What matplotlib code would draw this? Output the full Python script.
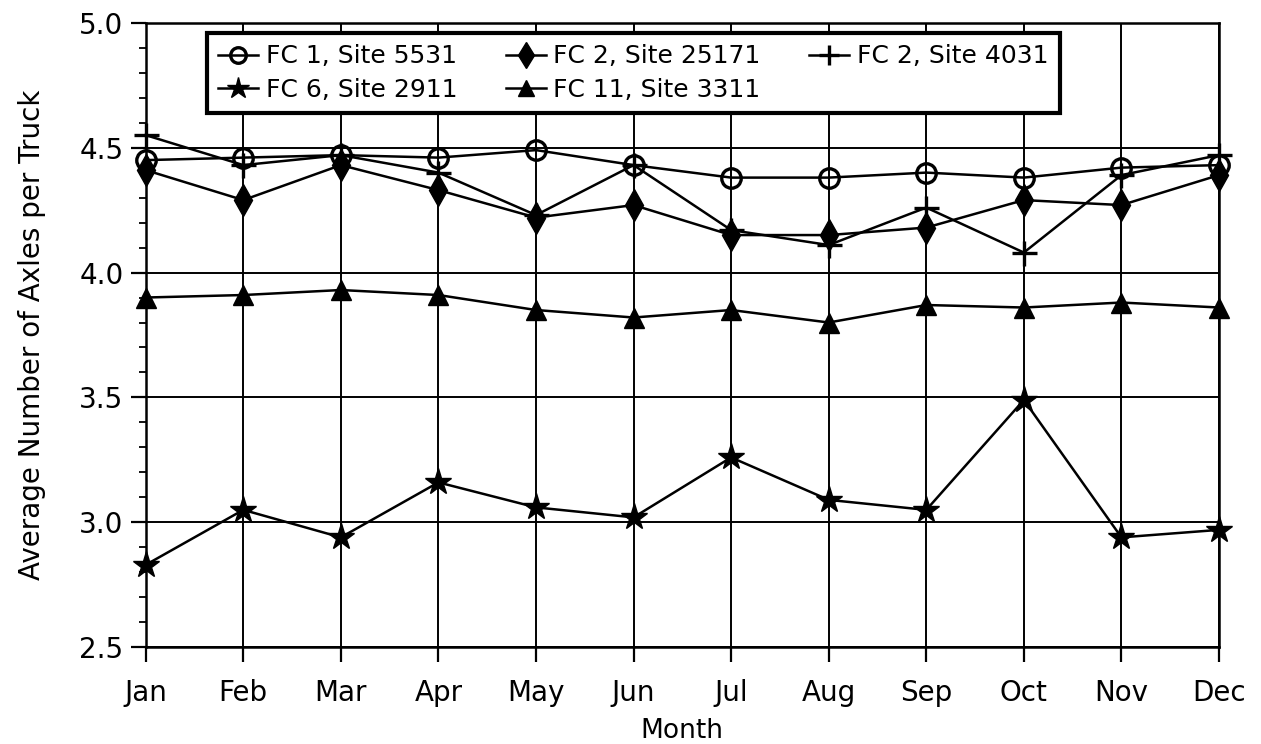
import matplotlib
matplotlib.use("Agg")
import matplotlib.pyplot as plt
from matplotlib.ticker import MultipleLocator

months = ["Jan", "Feb", "Mar", "Apr", "May", "Jun", "Jul", "Aug", "Sep", "Oct", "Nov", "Dec"]
fc1_5531 = [4.45, 4.46, 4.47, 4.46, 4.49, 4.43, 4.38, 4.38, 4.40, 4.38, 4.42, 4.43]
fc2_25171 = [4.41, 4.29, 4.43, 4.33, 4.22, 4.27, 4.15, 4.15, 4.18, 4.29, 4.27, 4.39]
fc2_4031 = [4.55, 4.43, 4.47, 4.40, 4.23, 4.43, 4.17, 4.11, 4.26, 4.08, 4.39, 4.47]
fc6_2911 = [2.83, 3.05, 2.94, 3.16, 3.06, 3.02, 3.26, 3.09, 3.05, 3.49, 2.94, 2.97]
fc11_3311 = [3.90, 3.91, 3.93, 3.91, 3.85, 3.82, 3.85, 3.80, 3.87, 3.86, 3.88, 3.86]
y_ticks = [2.5, 3.0, 3.5, 4.0, 4.5, 5.0]

plt.rcParams['font.family'] = ['DejaVu Sans']

fig = plt.figure(figsize=(12.61, 7.44), dpi=100)
ax = fig.add_axes([145.7/1261, 1-647.3/744, (1219-145.7)/1261, (647.3-22.7)/744])

x = list(range(len(months)))
lw = 1.8
common = dict(color='black', lw=lw, zorder=4, clip_on=False)
h1, = ax.plot(x, fc1_5531, marker='o', ms=14, mfc='none', mec='black', mew=2.4,
              label='FC 1, Site 5531', **common)
h2, = ax.plot(x, fc2_25171, marker='d', ms=16, mfc='black', mec='black',
              label='FC 2, Site 25171', **common)
h3, = ax.plot(x, fc2_4031, marker='+', ms=18, mec='black', mew=2.4,
              label='FC 2, Site 4031', **common)
h4, = ax.plot(x, fc6_2911, marker='*', ms=20, mfc='black', mec='black',
              label='FC 6, Site 2911', **common)
h5, = ax.plot(x, fc11_3311, marker='^', ms=15, mfc='black', mec='black',
              label='FC 11, Site 3311', **common)

ax.set_xlim(0, 11)
ax.set_ylim(2.5, 5.0)
ax.set_xticks(x)
ax.set_xticklabels(months)
ax.set_yticks(y_ticks)
ax.set_yticklabels([f"{v:.1f}" for v in y_ticks])
ax.yaxis.set_minor_locator(MultipleLocator(0.1))

ax.grid(True, which='major', color='black', lw=1.4)
ax.set_axisbelow(True)
for s in ax.spines.values():
    s.set_linewidth(1.8)
    s.set_color('black')

ax.tick_params(axis='both', which='major', direction='out', length=11, width=1.6, labelsize=20, colors='black')
ax.tick_params(axis='y', which='major', pad=5)
ax.tick_params(axis='x', which='major', pad=12)
ax.tick_params(axis='y', which='minor', direction='out', length=5, width=1.3)
ax.tick_params(axis='x', which='minor', length=0)

ax.set_xlabel('Month', fontsize=19, labelpad=8)
ax.set_ylabel('Average Number of Axles per Truck', fontsize=20, labelpad=24)

leg = ax.legend([h1, h4, h2, h5, h3],
                ['FC 1, Site 5531', 'FC 6, Site 2911', 'FC 2, Site 25171', 'FC 11, Site 3311', 'FC 2, Site 4031'],
                ncol=3, loc='upper left', bbox_to_anchor=(0.057, 0.9835), borderaxespad=0,
                fontsize=18, frameon=True, fancybox=False, framealpha=1, edgecolor='black',
                handlelength=1.6, handletextpad=0.3, columnspacing=1.95, labelspacing=0.38,
                borderpad=0.45, markerscale=0.8)
leg.get_frame().set_linewidth(3)
leg.set_zorder(10)

fig.savefig('out.png', dpi=100)
